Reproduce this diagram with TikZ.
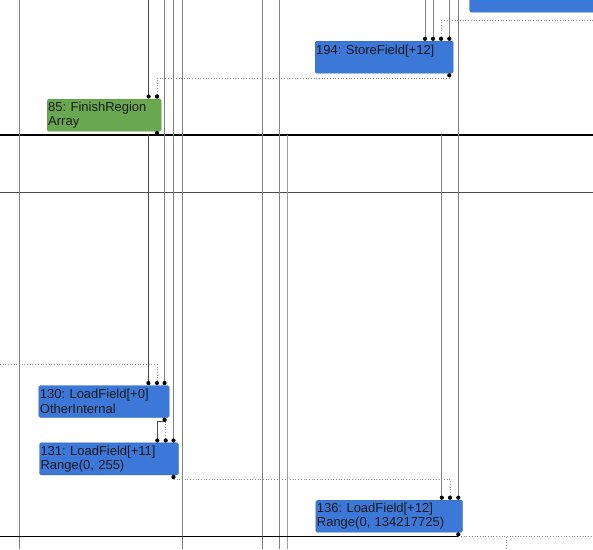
\documentclass[tikz,border=0pt]{standalone}
\usepackage{fontspec}
\setmainfont{Liberation Sans}
\frenchspacing

\definecolor{nodeblue}{HTML}{3C78D8}
\definecolor{nodegreen}{HTML}{6AA84F}

\begin{document}
\begin{tikzpicture}[x=1pt, y=-1pt,
            box/.style={draw=nodeblue!85!black, fill=nodeblue, rounded corners=1.5pt, anchor=north west, align=left, inner xsep=1pt, inner ysep=0pt, minimum height=32pt, font=\fontsize{13}{14.5}\selectfont, text=black!90},
            region/.style={box, draw=nodegreen!85!black, fill=nodegreen},
            edge/.style={draw=black!50, line width=0.9pt},
            darkedge/.style={draw=black!72, line width=0.9pt},
            dataedge/.style={draw=black!45, dotted, line width=0.7pt},
            ctrl/.style={draw=black, line width=1.1pt}]

            \useasboundingbox (0,0) rectangle (593,549);
            \clip (0,0) rectangle (593,549);

            % ports
            \coordinate (p85a) at (148.6,96.5);
            \coordinate (p85b) at (157,96.5);
            \coordinate (p85o) at (157,133);
            \coordinate (p194a) at (425,38.8);
            \coordinate (p194b) at (433,38.8);
            \coordinate (p194c) at (441,38.8);
            \coordinate (p194d) at (449.3,38.8);
            \coordinate (p194o) at (449.3,75.3);
            \coordinate (p130a) at (148.4,383);
            \coordinate (p130b) at (157,383);
            \coordinate (p130c) at (164.6,383);
            \coordinate (p130o) at (164.6,419.7);
            \coordinate (p131a) at (157.3,440.5);
            \coordinate (p131b) at (165.7,440.5);
            \coordinate (p131c) at (173.5,440.5);
            \coordinate (p131o) at (173.5,477);
            \coordinate (p136a) at (441.8,497.7);
            \coordinate (p136b) at (450,497.7);
            \coordinate (p136c) at (458.3,497.7);
            \coordinate (p136o) at (458.3,534.3);

            % control lines
            \coordinate (cL1) at (0,135);     \coordinate (cR1) at (593,135);
            \coordinate (cL2) at (0,192.3);   \coordinate (cR2) at (593,192.3);
            \coordinate (cL3) at (0,536.8);   \coordinate (cR3) at (593,536.8);
            \draw[ctrl] (cL1) -- (cR1);
            \draw[draw=black!70, line width=0.9pt] (cL2) -- (cR2);

            % lines passing through
            \foreach \x [count=\i] in {19,182,262.7,279.7} {
                \coordinate (top\i) at (\x,0);
                \coordinate (bot\i) at (\x,549);
                \draw[edge] (top\i) -- (bot\i);
            }
            \coordinate (c288) at (287.7,135);   \coordinate (b288) at (287.7,549);
            \draw[edge, draw=black!38] (c288) -- (b288);

            % nodes
            \node[box, minimum width=150pt] (ntop) at (469.5,-20) {};
            \node[box, text width=136pt] (n194) at (315,41) {194: StoreField[+12]\\\mbox{}};
            \node[region, text width=112pt] (n85) at (47,99) {85: FinishRegion\\Array};
            \node[box, text width=128.3pt] (n130) at (38.7,385.3) {130: LoadField[+0]\\OtherInternal};
            \node[box, text width=137pt] (n131) at (39.3,442.7) {131: LoadField[+11]\\Range(0, 255)};
            \node[box, text width=144.6pt] (n136) at (315.7,500) {136: LoadField[+12]\\Range(0, 134217725)};

            % inputs of 194
            \coordinate (t425) at (425,0);
            \coordinate (t433) at (433,0);
            \coordinate (t449) at (449.3,0);
            \coordinate (r20) at (593,20.3);
            \draw[edge] (t425) -- (p194a);
            \draw[edge] (t433) -- (p194b);
            \draw[edge] (t449) -- (p194d);
            \draw[dataedge] (r20) -| (p194c);

            % inputs of 85
            \coordinate (t148) at (148.6,0);
            \draw[darkedge] (t148) -- (p85a);
            \draw[dataedge] (p194o) -- ++(0,2.7) -| (p85b);

            % inputs of 130
            \coordinate (c148) at (148.4,135);
            \coordinate (t165) at (164.6,0);
            \coordinate (l364) at (0,364.3);
            \draw[darkedge] (c148) -- (p130a);
            \draw[dataedge] (l364) -| (p130b);
            \draw[edge] (t165) -- (p130c);

            % inputs of 131
            \coordinate (t174) at (173.5,0);
            \draw[darkedge] (p130o) -- ++(0,2) -| (p131a);
            \draw[dataedge] (p130o) -- ++(0,2) -| (p131b);
            \draw[edge] (t174) -- (p131c);

            % inputs of 136
            \coordinate (c442) at (441.8,135);
            \coordinate (t458) at (458.3,0);
            \draw[edge] (c442) -- (p136a);
            \draw[dataedge] (p131o) -- ++(0,2.3) -| (p136b);
            \draw[edge] (t458) -- (p136c);

            % outputs
            \coordinate (d506) at (506.3,536.8);
            \coordinate (b506) at (506.3,549);
            \draw[ctrl] (p85o) -- (p85o |- cL1);
            \draw[ctrl] (p136o) -- (p136o |- cL3) -- (cL3);
            \draw[dataedge] (p136o |- cR3) -- (cR3);
            \draw[dataedge] (d506) -- (b506);

            % port dots
            \foreach \p in {p85a,p85b,p85o,p194a,p194b,p194c,p194d,p194o,p130a,p130b,p130c,p130o,p131a,p131b,p131c,p131o,p136a,p136b,p136c,p136o}
                \fill (\p) circle (2.1pt);
        \end{tikzpicture}
\end{document}
